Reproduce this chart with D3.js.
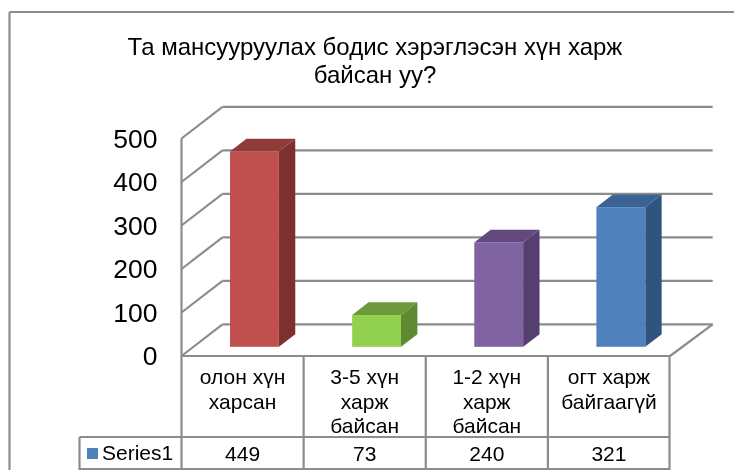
<!DOCTYPE html>
<html>
<head>
<meta charset="utf-8">
<script src="https://cdn.jsdelivr.net/npm/d3@7"></script>
<style>
  html, body { margin: 0; padding: 0; background: #fff; }
  svg { display: block; filter: blur(0.35px); }
  text { font-family: "Liberation Sans", Arial, sans-serif; fill: #000; }
</style>
</head>
<body>
<div id="chart"></div>
<script>
// data
var titleLines = ['Та мансууруулах бодис хэрэглэсэн хүн харж', 'байсан уу?'];
var categories = ['олон хүн|харсан', '3-5 хүн|харж|байсан', '1-2 хүн|харж|байсан', 'огт харж|байгаагүй'];
var seriesName = 'Series1';
var values = [449, 73, 240, 321];
var yTicks = [0, 100, 200, 300, 400, 500];
var barFront = ['#c0504d', '#92d050', '#8064a2', '#4f81bd'];
var barSide = ['#7d312f', '#5f8a33', '#553f70', '#2f5480'];
var barTop = ['#8f3b39', '#6c9a3c', '#624a80', '#3a6293'];

// canvas
const width = 734, height = 470;
const plot = {left: 181.5, right: 670, top: 138.5, bottom: 356};
const depthX = 41, depthY = -31.7;  // floor depth
const backRight = 712.7;
const barStart = 0.29, barDepth = 0.4;  // where the bar sits on the floor
const tableBottom = 469, rowY = 437, legendLeft = 79.5;
const lineColor = '#8c8c8c';

var svg = d3.select('#chart').append('svg')
  .attr('width', width)
  .attr('height', height);

var x = d3.scaleBand()
  .domain(d3.range(categories.length))
  .range([plot.left, plot.right])
  .paddingInner(0)
  .paddingOuter(0);
var y = d3.scaleLinear()
  .domain([0, d3.max(yTicks)])
  .range([plot.bottom, plot.top]);
var barW = x.bandwidth() * 0.4;

function line(x1, y1, x2, y2) {
  svg.append('line')
    .attr('x1', x1).attr('y1', y1)
    .attr('x2', x2).attr('y2', y2)
    .attr('stroke', lineColor)
    .attr('stroke-width', 2.2);
}

// outer frame, open on the right and bottom
line(9.5, 12, width, 12);
line(9.5, 12, 9.5, height);

// title
svg.selectAll('text.title')
  .data(titleLines)
  .enter()
  .append('text')
  .attr('class', 'title')
  .attr('x', 375)
  .attr('y', (d, i) => 55 + i * 28)
  .attr('text-anchor', 'middle')
  .style('font-size', '24px')
  .text(d => d);

// walls and gridlines
yTicks.forEach(function(t) {
  line(plot.left, y(t), plot.left + depthX, y(t) + depthY);
  line(plot.left + depthX, y(t) + depthY, backRight, y(t) + depthY);
});
line(plot.left, y(0), plot.left, y(d3.max(yTicks)));
line(plot.right, y(0), backRight, y(0) + depthY);

// y axis labels
var yAxis = d3.axisLeft(y)
  .tickValues(yTicks)
  .tickSize(0)
  .tickPadding(0)
  .tickFormat(d3.format('d'));
svg.append('g')
  .attr('transform', 'translate(157.5,0.5)')
  .call(yAxis)
  .call(g => g.select('.domain').remove())
  .selectAll('text')
  .style('font-size', '26.5px');

// bars
var bars = svg.selectAll('g.bar')
  .data(values)
  .enter()
  .append('g')
  .attr('class', 'bar');

function barPts(i, d) {
  var x0 = x(i) + (x.bandwidth() - barW) / 2 + depthX * barStart;
  var x1 = x0 + barW;
  var base = y(0) + depthY * barStart;
  var top = base - (y(0) - y(d));
  return {x0: x0, x1: x1, base: base, top: top, dx: depthX * barDepth, dy: depthY * barDepth};
}
bars.append('polygon')
  .attr('points', function(d, i) {
    var p = barPts(i, d);
    return [[p.x1, p.top], [p.x1 + p.dx, p.top + p.dy], [p.x1 + p.dx, p.base + p.dy], [p.x1, p.base]].join(' ');
  })
  .attr('fill', (d, i) => barSide[i]);
bars.append('polygon')
  .attr('points', function(d, i) {
    var p = barPts(i, d);
    return [[p.x0, p.top], [p.x0 + p.dx, p.top + p.dy], [p.x1 + p.dx, p.top + p.dy], [p.x1, p.top]].join(' ');
  })
  .attr('fill', (d, i) => barTop[i]);
bars.append('rect')
  .attr('x', (d, i) => barPts(i, d).x0)
  .attr('y', (d, i) => barPts(i, d).top)
  .attr('width', barW)
  .attr('height', (d, i) => barPts(i, d).base - barPts(i, d).top)
  .attr('fill', (d, i) => barFront[i]);

// data table
line(plot.left, plot.bottom, plot.right, plot.bottom);
line(legendLeft, rowY, plot.right, rowY);
line(legendLeft, tableBottom, plot.right, tableBottom);
line(legendLeft, rowY, legendLeft, height);
d3.range(categories.length + 1).forEach(function(i) {
  var vx = i < categories.length ? x(i) : plot.right - 0.5;
  line(vx, plot.bottom, vx, height);
});

categories.forEach(function(c, i) {
  c.split('|').forEach(function(s, j) {
    svg.append('text')
      .attr('class', 'cat')
      .attr('x', x(i) + x.bandwidth() / 2)
      .attr('y', 384 + j * 24.5)
      .attr('text-anchor', 'middle')
      .style('font-size', '21px')
      .text(s);
  });
});

svg.selectAll('text.val')
  .data(values)
  .enter()
  .append('text')
  .attr('class', 'val')
  .attr('x', (d, i) => x(i) + x.bandwidth() / 2)
  .attr('y', 461)
  .attr('text-anchor', 'middle')
  .style('font-size', '21px')
  .text(d => d);

// legend key
svg.append('rect')
  .attr('x', 87)
  .attr('y', 448)
  .attr('width', 11)
  .attr('height', 11)
  .attr('fill', barFront[3]);
svg.append('text')
  .attr('x', 102)
  .attr('y', 460)
  .style('font-size', '21px')
  .text(seriesName);
</script>
</body>
</html>
